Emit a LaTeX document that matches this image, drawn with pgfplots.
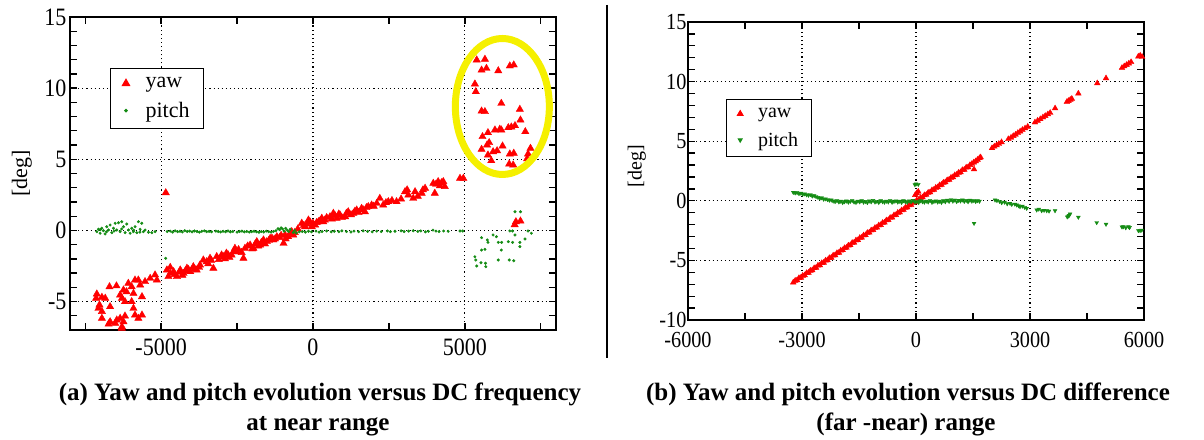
\documentclass[border=0pt]{standalone}
\usepackage{fontspec}
\setmainfont{Liberation Serif}
\newfontfamily\cf[FakeStretch=0.88]{Liberation Serif}
\usepackage{pgfplots}
\pgfplotsset{compat=1.18}
\definecolor{pgreen}{RGB}{20,140,20}
\definecolor{yawred}{RGB}{255,0,0}
\definecolor{ellyellow}{RGB}{245,240,0}
\begin{document}
\begin{tikzpicture}
\useasboundingbox (0,0) rectangle (1204pt,439pt);
\pgfplotsset{
  myaxis/.style={
    scale only axis,
    axis line style={line width=1.5pt},
    every tick/.style={black, line width=1.3pt},
    major tick length=7pt, minor tick length=7pt,
    grid=major,
    major grid style={black, line width=1.1pt, dash pattern=on 1.1pt off 3pt},
    ylabel={[deg]},
    clip=true,
  }
}
% ---------------- left axis ----------------
\begin{axis}[myaxis,
  at={(70pt,109pt)}, anchor=south west,
  width=486pt, height=313pt,
  xmin=-8000, xmax=8000, ymin=-7, ymax=15,
  xtick={-5000,0,5000}, xticklabels={-5000,0,5000},
  minor xtick={-7500,-2500,2500,7500},
  ytick={-5,0,5,10,15}, yticklabels={-5,0,5,10,15},
  minor ytick={-6,-4,-3,-2,-1,1,2,3,4,6,7,8,9,11,12,13,14},
  tick label style={font=\cf\fontsize{25}{27}\selectfont},
  xticklabel style={yshift=-5pt},
  ylabel style={font=\fontsize{22}{24}\selectfont, at={(axis description cs:-0.099,0.5)}, anchor=center},
  legend style={at={(0.082,0.837)}, anchor=north west, draw=black, line width=1pt,
    font=\fontsize{22}{24}\selectfont, inner xsep=12pt, inner ysep=7pt, row sep=9pt, column sep=14pt},
  legend cell align=left,
]
\addplot[only marks, mark=triangle*, mark size=4.2pt, color=yawred] coordinates {
(-7117,-4.47) (-7140,-4.77) (-6950,-4.70) (-6840,-4.77) (-7063,-5.48) (-6950,-5.70)
(-7030,-5.24) (-6680,-5.36) (-6950,-6.18) (-6730,-6.58) (-6510,-6.53) (-6460,-6.30)
(-6350,-6.18) (-6240,-6.42) (-6290,-6.77) (-6190,-6.02) (-6700,-3.96) (-6470,-3.90)
(-6350,-4.54) (-6290,-4.77) (-6240,-4.19) (-6190,-5.01) (-6140,-4.31) (-6080,-3.72)
(-5970,-3.96) (-5910,-4.43) (-5970,-5.01) (-5910,-5.48) (-5860,-5.95) (-5750,-6.18)
(-5630,-5.95) (-5860,-3.49) (-5750,-3.49) (-5690,-3.84) (-5630,-4.66) (-5530,-3.60)
(-5360,-3.37) (-5200,-3.13) (-5140,-3.49) (-6295,-6.88) (-6679,-6.42)
(-4847,2.65)
(-4810,-2.78) (-4760,-3.25) (-4700,-3.02) (-4590,-2.90) (-4480,-3.25) (-4370,-2.78)
(-4260,-3.02) (-4150,-2.66) (-4040,-2.90) (-3940,-2.55) (-3830,-2.78) (-3720,-2.43)
(-3610,-2.08) (-3500,-2.20) (-3390,-1.96) (-3280,-2.66) (-3170,-1.84) (-3010,-1.73)
(-2900,-2.00) (-2790,-1.73) (-2680,-1.73) (-2620,-1.50) (-2570,-1.26) (-2510,-1.50)
(-2290,-1.96) (-2240,-1.26) (-2070,-1.03) (-1960,-1.26) (-1850,-0.79) (-1740,-1.03)
(-1630,-0.67) (-1520,-0.79) (-1410,-0.56) (-1300,-0.67) (-1190,-0.44) (-970,-0.91)
(-920,-0.32) (-820,-0.44) (-700,-0.09) (-650,-0.32) (-370,0.50) (-260,0.26)
(-150,0.73) (-40,0.26) (70,0.38) (180,0.61) (290,0.85) (390,0.73) (560,0.96)
(670,1.20) (780,0.85) (890,1.08) (1060,0.96) (1160,1.31) (1330,1.20) (1440,1.43)
(1600,1.55) (1710,1.31) (1820,1.67) (1930,1.78) (2100,1.90) (2200,2.25) (2310,1.78)
(2480,2.02) (2750,2.02) (3030,2.72) (3140,2.49) (3300,2.25) (3360,2.72) (3580,2.61)
(3690,2.96) (3960,3.31) (4010,2.61) (4120,3.43) (4180,3.14) (4290,3.43) (4340,3.08)
(4840,3.66) (4950,3.66)
(-4700,-2.60) (-4550,-3.10) (-4400,-2.95) (-4300,-3.15) (-4200,-2.85) (-4100,-2.75)
(-3900,-2.70) (-3750,-2.60) (-3450,-2.35) (-3350,-2.10) (-3100,-2.05) (-2950,-1.85)
(-2850,-1.60) (-2750,-1.90) (-2450,-1.35) (-2350,-1.55) (-2150,-1.10) (-2000,-1.30)
(-1900,-0.95) (-1800,-1.10) (-1700,-0.85) (-1580,-0.95) (-1450,-0.70) (-1350,-0.55)
(-1250,-0.60) (-1100,-0.50) (-1050,-0.35) (-900,-0.60) (-750,-0.20) (-600,-0.15)
(-500,0.10) (-300,0.35) (-200,0.45) (-100,0.60) (0,0.50) (120,0.55) (240,0.70)
(340,0.60) (450,0.90) (620,0.80) (720,1.05) (850,1.15) (950,0.90) (1100,1.20)
(1250,1.10) (1380,1.35) (1500,1.25) (1650,1.45) (1760,1.60) (2000,1.70) (2400,1.95)
(2600,2.10) (2900,2.20) (3100,2.85) (3450,2.40) (3620,2.85) (4050,3.25) (4230,3.35)
(5390,11.98) (5660,12.03) (5550,11.27) (5710,11.39) (6100,11.22) (6480,11.56)
(6610,11.63) (5330,10.29) (5360,9.75) (6200,8.93) (5550,8.39) (5660,8.35)
(6810,8.51) (6830,7.76) (5760,6.87) (5990,7.06) (6150,7.11) (6200,7.06)
(6430,7.22) (6530,7.27) (6650,7.36) (6990,6.94) (5580,6.59) (5800,6.17)
(5730,6.00) (5550,5.70) (6240,5.93) (5930,5.53) (6060,5.60) (5760,5.30)
(5870,4.90) (6480,5.37) (6610,5.42) (7160,5.77) (7080,5.37) (7050,5.04)
(6460,4.67) (6590,4.60)
(6680,0.61) (6830,0.66) (6640,0.40)
};
\addlegendentry{yaw}
\addplot[only marks, mark=*, mark size=1.3pt, color=pgreen] coordinates {
(-7117,-0.09) (-7062,0.08) (-7008,-0.20) (-6953,0.15) (-6898,-0.02) (-6844,-0.25)
(-6789,0.26) (-6734,0.03) (-6679,0.38) (-6624,-0.16) (-6569,0.15) (-6514,0.50)
(-6460,0.03) (-6405,0.54) (-6350,-0.09) (-6295,0.61) (-6240,0.26) (-6185,-0.16)
(-6130,0.45) (-6076,0.03) (-6021,-0.20) (-5966,0.15) (-5911,-0.09) (-5856,0.26)
(-5801,-0.16) (-5747,0.61) (-5692,0.08) (-5637,0.50) (-5582,-0.09) (-5527,0.03)
(-5418,-0.13) (-5308,-0.16) (-5198,-0.09)
(-7000,0.05) (-6800,-0.10) (-6550,-0.05) (-6300,0.10) (-5900,0.02) (-5700,-0.12)
(-4850,-1.96)
(-4800,-0.08) (-4700,-0.05) (-4620,-0.12) (-4540,-0.03) (-4460,-0.09) (-4380,-0.06)
(-4300,-0.11) (-4220,-0.02) (-4140,-0.08) (-4060,-0.05) (-3980,-0.10) (-3900,-0.04)
(-3820,-0.08) (-3740,-0.12) (-3660,-0.06) (-3580,-0.03) (-3500,-0.09) (-3420,-0.07)
(-3340,-0.10) (-3200,-0.05) (-3120,-0.08) (-3040,-0.11) (-2960,-0.06) (-2880,-0.09)
(-2800,-0.04) (-2720,-0.10) (-2640,-0.07) (-2500,-0.12) (-2420,-0.08) (-2340,-0.05)
(-2260,-0.10) (-2180,-0.07) (-2100,-0.12) (-2020,-0.09) (-1940,-0.06) (-1860,-0.10)
(-1780,-0.13) (-1700,-0.08) (-1620,-0.11) (-1540,-0.05) (-1460,-0.09) (-1380,-0.12)
(-1300,-0.07) (-1220,-0.02) (-1150,0.12) (-1100,0.05) (-1050,0.18) (-1000,0.10)
(-950,-0.05) (-900,0.15) (-850,0.02) (-800,-0.08) (-750,0.08) (-650,-0.15)
(-600,0.00) (-550,-0.18) (-450,-0.10) (-350,-0.08) (-250,-0.12) (-150,-0.06)
(-50,-0.10) (100,-0.05) (200,-0.12) (300,-0.08) (450,-0.04) (600,-0.10)
(700,-0.06) (850,-0.09) (950,-0.03) (1100,-0.08) (1250,-0.11) (1350,-0.05)
(1500,-0.09) (1650,-0.03) (1800,-0.07) (1950,-0.10) (2100,-0.05) (2250,-0.08)
(2450,-0.04) (2550,-0.09) (2700,-0.06) (2900,-0.03) (3000,-0.08) (3150,-0.05)
(3300,-0.02) (3450,-0.07) (3550,-0.04) (3700,-0.10) (3800,-0.06) (3950,0.02)
(4050,-0.05) (4150,-0.08) (4300,-0.04) (4450,-0.06) (4840,-0.04) (4930,-0.04)
(6650,1.31) (6830,1.31) (6480,-0.04) (6570,-0.04) (7080,-0.04) (7190,-0.20)
(5550,-0.51) (5740,-0.67) (5930,-0.32) (6040,-0.44) (5760,-0.84) (6100,-0.84)
(6210,-0.84) (6430,-0.79) (6570,-0.84) (6650,-0.32) (6810,-0.84) (6980,-0.60)
(5550,-1.38) (5660,-1.33) (6200,-1.38) (6810,-1.14)
(5330,-1.85) (5360,-2.08) (5390,-2.50) (5530,-2.27) (5680,-2.31) (5690,-2.55)
(6100,-2.08) (6460,-2.08) (6610,-2.13)
};
\addlegendentry{pitch}
\coordinate (ell) at (axis cs:6234,8.71);
\end{axis}
\draw[ellyellow, line width=7pt] (ell) ellipse [x radius=47pt, y radius=68pt];
% ---------------- right axis ----------------
\begin{axis}[myaxis,
  at={(688pt,119pt)}, anchor=south west,
  width=456pt, height=298pt,
  xmin=-6000, xmax=6000, ymin=-10, ymax=15,
  xtick={-6000,-3000,0,3000,6000}, xticklabels={-6000,-3000,0,3000,6000},
  minor xtick={-4500,-1500,1500,4500},
  ytick={-10,-5,0,5,10,15}, yticklabels={-10,-5,0,5,10,15},
  minor ytick={-9,-8,-7,-6,-4,-3,-2,-1,1,2,3,4,6,7,8,9,11,12,13,14},
  tick label style={font=\cf\fontsize{23}{25}\selectfont},
  xticklabel style={yshift=-9pt},
  yticklabel style={xshift=2pt},
  ylabel style={font=\fontsize{20}{22}\selectfont, at={(axis description cs:-0.112,0.517)}, anchor=center},
  legend style={at={(0.083,0.742)}, anchor=north west, draw=black, line width=1pt,
    font=\fontsize{20}{22}\selectfont, inner xsep=11pt, inner ysep=7pt, row sep=9pt, column sep=13pt},
  legend cell align=left,
]
\addplot[only marks, mark=triangle*, mark size=3.3pt, color=yawred] coordinates {
(-3230,-6.85) (-3180,-6.70) (-3130,-6.66) (-3080,-6.48) (-3030,-6.45) (-2980,-6.28)
(-2930,-6.25) (-2880,-6.06) (-2830,-6.03) (-2780,-5.86) (-2730,-5.83) (-2680,-5.65)
(-2630,-5.62) (-2580,-5.43) (-2530,-5.41) (-2480,-5.22) (-2430,-5.19) (-2380,-5.01)
(-2330,-4.98) (-2280,-4.80) (-2230,-4.77) (-2180,-4.59) (-2130,-4.56) (-2080,-4.38)
(-2030,-4.35) (-1980,-4.17) (-1930,-4.14) (-1880,-3.96) (-1830,-3.93) (-1780,-3.75)
(-1730,-3.72) (-1680,-3.53) (-1630,-3.51) (-1580,-3.32) (-1530,-3.30) (-1480,-3.11)
(-1430,-3.09) (-1380,-2.90) (-1330,-2.88) (-1280,-2.69) (-1230,-2.66) (-1180,-2.48)
(-1130,-2.45) (-1080,-2.27) (-1030,-2.24) (-980,-2.06) (-930,-2.03) (-880,-1.85)
(-830,-1.82) (-780,-1.64) (-730,-1.61) (-680,-1.43) (-630,-1.40) (-580,-1.21)
(-530,-1.19) (-480,-1.00) (-430,-0.97) (-380,-0.79) (-330,-0.76) (-280,-0.58)
(-230,-0.55) (-180,-0.37) (-130,-0.34) (-80,-0.16) (-30,-0.13) (20,0.05)
(70,0.08) (120,0.26) (170,0.29) (220,0.47) (270,0.50) (320,0.68)
(370,0.72) (420,0.89) (470,0.93) (520,1.10) (570,1.14) (620,1.31)
(670,1.35) (720,1.52) (770,1.56) (820,1.73) (870,1.77) (920,1.94)
(970,1.98) (1020,2.15) (1070,2.19) (1120,2.36) (1170,2.40) (1220,2.58)
(1270,2.61) (1320,2.79) (1370,2.82) (1420,3.00) (1470,3.10) (1520,3.22)
(1570,3.32) (1620,3.45) (1670,3.58) (1700,3.65)
(1527,2.64) (17,0.63) (60,0.77) (-20,0.49)
(2000,4.42) (2060,4.55) (2120,4.66) (2180,4.78) (2250,4.92)
(2430,5.18) (2500,5.30) (2560,5.44) (2620,5.55) (2680,5.70) (2740,5.82)
(2800,5.95) (2870,6.08) (2940,6.22)
(3130,6.58) (3200,6.72) (3270,6.85) (3340,7.00) (3400,7.12) (3470,7.26) (3530,7.38)
(3660,7.76) (3970,8.30) (4010,8.38) (4060,8.48) (4100,8.56) (4272,9.00)
(4770,9.86) (5000,10.28)
(5420,11.15) (5480,11.28) (5540,11.40) (5600,11.52) (5660,11.64)
(5850,12.10) (5900,12.18) (5950,12.08)
};
\addlegendentry{yaw}
\addplot[only marks, mark=triangle*, mark options={rotate=180}, mark size=2.2pt, color=pgreen] coordinates {
(-3230,0.71) (-3180,0.66) (-3130,0.69) (-3080,0.60) (-3030,0.63) (-2980,0.55)
(-2930,0.58) (-2880,0.50) (-2830,0.47) (-2780,0.52) (-2730,0.40) (-2680,0.43)
(-2630,0.35) (-2580,0.28) (-2530,0.21) (-2480,0.25) (-2430,0.13) (-2380,0.16)
(-2330,0.10) (-2280,0.05) (-2230,0.07) (-2180,-0.02) (-2130,-0.07) (-2080,0.01)
(-2030,-0.10) (-1980,-0.04) (-1930,-0.15) (-1880,-0.08) (-1830,-0.02) (-1780,-0.12)
(-1730,-0.05) (-1680,0.02) (-1630,-0.10) (-1580,-0.14) (-1530,-0.03) (-1480,-0.09)
(-1430,0.01) (-1380,-0.12) (-1330,-0.06) (-1280,-0.15) (-1230,-0.02) (-1180,-0.09)
(-1130,0.03) (-1080,-0.11) (-1030,-0.05) (-980,-0.14) (-930,0.00) (-880,-0.08)
(-830,-0.12) (-780,-0.03) (-730,-0.10) (-680,0.02) (-630,-0.13) (-580,-0.06)
(-530,-0.01) (-480,-0.11) (-430,-0.04) (-380,-0.14) (-330,0.01) (-280,-0.08)
(-230,-0.12) (-180,-0.02) (-130,-0.09) (-80,0.03) (-30,-0.11) (20,-0.05)
(70,-0.14) (120,0.00) (170,-0.08) (220,-0.12) (270,-0.03) (320,-0.10)
(370,0.02) (420,-0.13) (470,-0.06) (520,-0.01) (570,-0.11) (620,-0.04)
(670,-0.14) (720,0.01) (770,-0.08) (820,0.05) (870,-0.05) (920,0.08)
(970,-0.03) (1020,0.06) (1070,-0.07) (1120,0.04) (1170,-0.02) (1220,0.07)
(1270,-0.05) (1320,0.03) (1370,-0.08) (1420,0.05) (1470,-0.03) (1520,0.02)
(1570,-0.06) (1620,0.01) (1670,-0.04)
(0,1.41) (60,1.38) (-30,1.35) (1527,-1.89)
(2079,0.07) (2130,0.02) (2200,-0.05) (2255,-0.16) (2330,-0.12) (2400,-0.25)
(2474,-0.21) (2520,-0.30) (2600,-0.28) (2650,-0.35) (2700,-0.42) (2737,-0.49)
(2800,-0.45) (2860,-0.55) (2913,-0.63)
(3176,-0.77) (3230,-0.70) (3307,-0.83) (3370,-0.80) (3440,-0.83) (3500,-0.86)
(3658,-0.83) (3980,-1.35) (4009,-1.28) (4053,-1.10) (4030,-1.22)
(4272,-1.38) (4755,-1.83) (5000,-1.97) (5420,-2.20) (5457,-2.17) (5520,-2.26)
(5590,-2.17) (5620,-2.24) (5852,-2.50) (5896,-2.50) (5940,-2.46)
};
\addlegendentry{pitch}
\end{axis}
% separator
\draw[line width=1.5pt] (607pt,434pt) -- (607pt,81pt);
% captions
\node[anchor=base, font=\fontsize{25}{29}\selectfont\bfseries] at (320pt,38pt) {(a) Yaw and pitch evolution versus DC frequency};
\node[anchor=base, font=\fontsize{25}{29}\selectfont\bfseries] at (318pt,9pt) {at near range};
\node[anchor=base, font=\fontsize{25}{29}\selectfont\bfseries] at (908pt,38pt) {(b) Yaw and pitch evolution versus DC difference};
\node[anchor=base, font=\fontsize{25}{29}\selectfont\bfseries] at (906pt,9pt) {(far -near) range};
\end{tikzpicture}
\end{document}
